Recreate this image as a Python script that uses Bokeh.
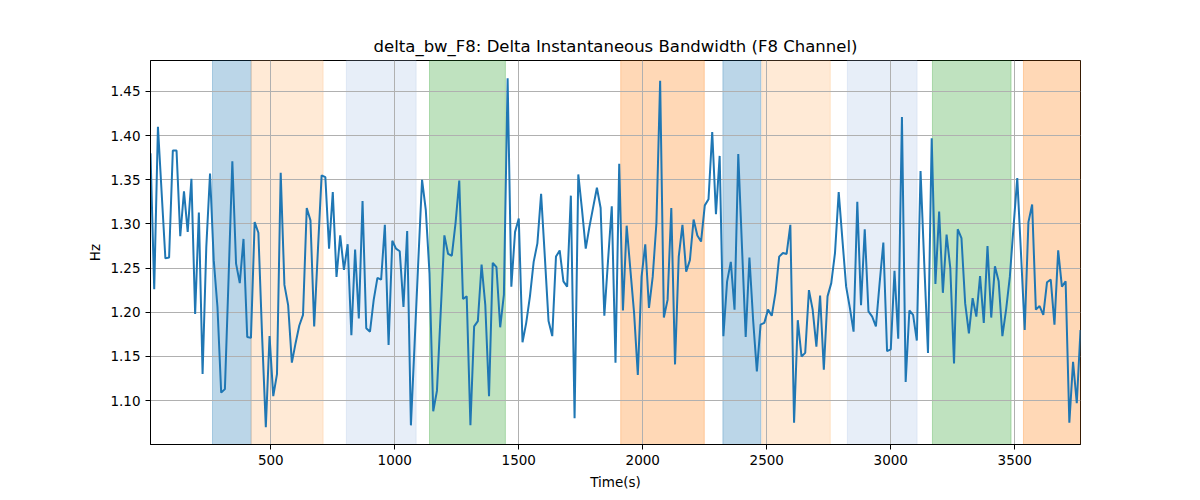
from bokeh.plotting import figure
from bokeh.models import BoxAnnotation, FixedTicker, NumeralTickFormatter, Range1d
from bokeh.embed import file_html
from bokeh.resources import INLINE

# sampling of the trace (seconds)
t_start = 15
t_step = 15

bw_values = [
    1.380, 1.226, 1.410, 1.335, 1.261, 1.262, 1.383, 1.383, 1.286, 1.337,
    1.291, 1.351, 1.198, 1.313, 1.130, 1.274, 1.357, 1.259, 1.206, 1.109,
    1.113, 1.240, 1.371, 1.255, 1.233, 1.283, 1.172, 1.171, 1.302, 1.290,
    1.173, 1.070, 1.173, 1.105, 1.130, 1.358, 1.231, 1.208, 1.143, 1.165,
    1.185, 1.197, 1.318, 1.304, 1.184, 1.270, 1.355, 1.353, 1.272, 1.336,
    1.240, 1.287, 1.248, 1.277, 1.174, 1.271, 1.193, 1.326, 1.182, 1.178,
    1.214, 1.239, 1.237, 1.299, 1.163, 1.281, 1.272, 1.269, 1.206, 1.292,
    1.072, 1.165, 1.259, 1.350, 1.316, 1.244, 1.088, 1.111, 1.199, 1.287,
    1.266, 1.264, 1.301, 1.349, 1.215, 1.218, 1.072, 1.184, 1.190, 1.254,
    1.208, 1.105, 1.256, 1.251, 1.183, 1.220, 1.465, 1.229, 1.291, 1.306,
    1.166, 1.188, 1.218, 1.257, 1.278, 1.334, 1.263, 1.190, 1.173, 1.263,
    1.270, 1.235, 1.229, 1.332, 1.080, 1.356, 1.316, 1.272, 1.297, 1.319,
    1.341, 1.318, 1.196, 1.259, 1.320, 1.143, 1.368, 1.202, 1.298, 1.248,
    1.199, 1.129, 1.240, 1.277, 1.205, 1.240, 1.301, 1.462, 1.194, 1.214,
    1.318, 1.141, 1.263, 1.299, 1.246, 1.259, 1.305, 1.287, 1.280, 1.321,
    1.328, 1.404, 1.311, 1.377, 1.173, 1.235, 1.257, 1.203, 1.379, 1.274,
    1.172, 1.262, 1.191, 1.133, 1.186, 1.188, 1.203, 1.196, 1.222, 1.263,
    1.267, 1.266, 1.299, 1.075, 1.191, 1.150, 1.154, 1.225, 1.203, 1.161,
    1.219, 1.135, 1.218, 1.233, 1.267, 1.336, 1.282, 1.229, 1.205, 1.178,
    1.325, 1.208, 1.294, 1.201, 1.195, 1.184, 1.233, 1.279, 1.156, 1.158,
    1.247, 1.170, 1.421, 1.121, 1.202, 1.197, 1.168, 1.360, 1.255, 1.154,
    1.397, 1.232, 1.314, 1.222, 1.288, 1.250, 1.142, 1.294, 1.284, 1.210,
    1.176, 1.216, 1.195, 1.241, 1.188, 1.275, 1.194, 1.252, 1.235, 1.173,
    1.203, 1.240, 1.297, 1.352, 1.267, 1.180, 1.302, 1.322, 1.203, 1.207,
    1.197, 1.234, 1.237, 1.186, 1.270, 1.229, 1.235, 1.075, 1.144, 1.097,
    1.180,
]
times = [t_start + t_step * i for i in range(len(bw_values))]

# shaded segments
span_starts = [265, 421, 805, 1140, 1911, 2323, 2480, 2825, 3168, 3535]
span_ends = [421, 711, 1086, 1446, 2248, 2476, 2756, 3106, 3485, 3765]
span_colors = ["#1f77b4", "#ffbb78", "#aec7e8", "#2ca02c", "#ff7f0e",
               "#1f77b4", "#ffbb78", "#aec7e8", "#2ca02c", "#ff7f0e"]

x_ticks = [500, 1000, 1500, 2000, 2500, 3000, 3500]
y_ticks = [1.10, 1.15, 1.20, 1.25, 1.30, 1.35, 1.40, 1.45]

FONT = "DejaVu Sans"

p = figure(width=1184, height=492, output_backend="svg", toolbar_location=None,
           title="delta_bw_F8: Delta Instantaneous Bandwidth (F8 Channel)",
           x_axis_label="Time(s)", y_axis_label="Hz",
           x_range=Range1d(times[0], times[-1]), y_range=Range1d(1.0503, 1.4850),
           min_border_left=150, min_border_right=104, min_border_top=60, min_border_bottom=47)

for s, e, c in zip(span_starts, span_ends, span_colors):
    p.add_layout(BoxAnnotation(left=s, right=e, fill_color=c, fill_alpha=0.3,
                               line_color=c, line_alpha=0.3, line_width=1, level="image"))

p.line(times, bw_values, line_color="#1f77b4", line_width=2)

p.title.align = "center"
p.title.text_font = FONT
p.title.text_font_size = "16.5px"
p.title.text_font_style = "normal"
p.title.text_color = "black"

p.outline_line_color = "black"
p.outline_line_alpha = 1
p.outline_line_width = 1

p.xaxis.ticker = FixedTicker(ticks=x_ticks)
p.yaxis.ticker = FixedTicker(ticks=y_ticks)
p.yaxis.formatter = NumeralTickFormatter(format="0.00")

for ax in (p.xaxis, p.yaxis):
    ax.axis_label_text_font = FONT
    ax.axis_label_text_font_size = "13.5px"
    ax.axis_label_text_font_style = "normal"
    ax.axis_label_text_color = "black"
    ax.major_label_text_font = FONT
    ax.major_label_text_font_size = "13.5px"
    ax.major_label_text_color = "black"
    ax.axis_line_color = "black"
    ax.major_tick_line_color = "black"
    ax.major_tick_in = 0
    ax.major_tick_out = 5
    ax.minor_tick_line_color = None

p.xaxis.axis_label_standoff = 6
p.yaxis.axis_label_standoff = 4

p.grid.grid_line_color = "#b0b0b0"
p.grid.grid_line_width = 1
p.grid.grid_line_alpha = 1

open("out.html", "w").write(file_html(p, INLINE))
